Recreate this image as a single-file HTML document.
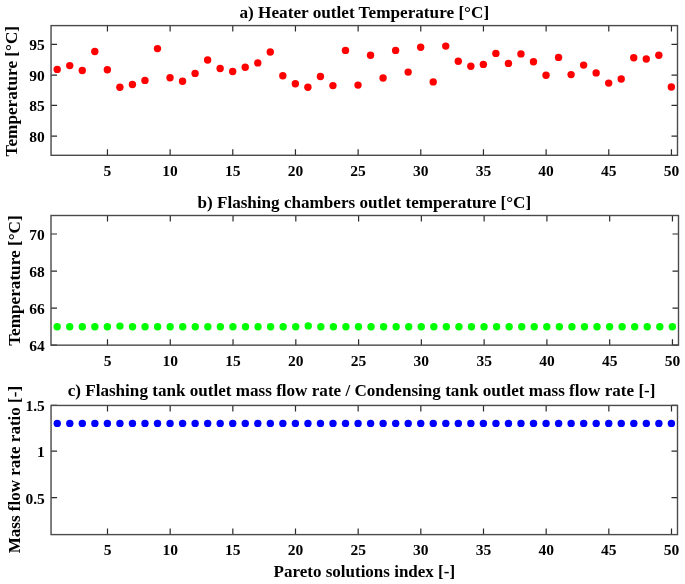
<!DOCTYPE html><html><head><meta charset="utf-8"><style>html,body{margin:0;padding:0;background:#fff;overflow:hidden;width:685px;height:584px;}svg{display:block;will-change:transform;}text{font-family:"Liberation Serif",serif;font-weight:bold;fill:#000;}</style></head><body>
<svg width="685" height="584" viewBox="0 0 685 584">
<rect width="685" height="584" fill="#fff"/>
<circle cx="57.22" cy="69.4" r="3.7" fill="#f00"/>
<circle cx="69.75" cy="65.6" r="3.7" fill="#f00"/>
<circle cx="82.28" cy="70.5" r="3.7" fill="#f00"/>
<circle cx="94.82" cy="51.55" r="3.7" fill="#f00"/>
<circle cx="107.35" cy="69.8" r="3.7" fill="#f00"/>
<circle cx="119.88" cy="87.3" r="3.7" fill="#f00"/>
<circle cx="132.42" cy="84.5" r="3.7" fill="#f00"/>
<circle cx="144.95" cy="80.4" r="3.7" fill="#f00"/>
<circle cx="157.48" cy="48.6" r="3.7" fill="#f00"/>
<circle cx="170.02" cy="77.8" r="3.7" fill="#f00"/>
<circle cx="182.55" cy="81.2" r="3.7" fill="#f00"/>
<circle cx="195.08" cy="73.4" r="3.7" fill="#f00"/>
<circle cx="207.62" cy="60.0" r="3.7" fill="#f00"/>
<circle cx="220.15" cy="68.5" r="3.7" fill="#f00"/>
<circle cx="232.68" cy="71.5" r="3.7" fill="#f00"/>
<circle cx="245.22" cy="67.3" r="3.7" fill="#f00"/>
<circle cx="257.75" cy="62.9" r="3.7" fill="#f00"/>
<circle cx="270.28" cy="52.0" r="3.7" fill="#f00"/>
<circle cx="282.82" cy="75.8" r="3.7" fill="#f00"/>
<circle cx="295.35" cy="83.7" r="3.7" fill="#f00"/>
<circle cx="307.88" cy="87.3" r="3.7" fill="#f00"/>
<circle cx="320.42" cy="76.5" r="3.7" fill="#f00"/>
<circle cx="332.95" cy="85.6" r="3.7" fill="#f00"/>
<circle cx="345.48" cy="50.4" r="3.7" fill="#f00"/>
<circle cx="358.02" cy="85.1" r="3.7" fill="#f00"/>
<circle cx="370.55" cy="55.2" r="3.7" fill="#f00"/>
<circle cx="383.08" cy="78.0" r="3.7" fill="#f00"/>
<circle cx="395.62" cy="50.4" r="3.7" fill="#f00"/>
<circle cx="408.15" cy="72.1" r="3.7" fill="#f00"/>
<circle cx="420.68" cy="47.3" r="3.7" fill="#f00"/>
<circle cx="433.22" cy="81.9" r="3.7" fill="#f00"/>
<circle cx="445.75" cy="46.1" r="3.7" fill="#f00"/>
<circle cx="458.28" cy="61.2" r="3.7" fill="#f00"/>
<circle cx="470.82" cy="66.3" r="3.7" fill="#f00"/>
<circle cx="483.35" cy="64.4" r="3.7" fill="#f00"/>
<circle cx="495.88" cy="53.4" r="3.7" fill="#f00"/>
<circle cx="508.42" cy="63.4" r="3.7" fill="#f00"/>
<circle cx="520.95" cy="53.9" r="3.7" fill="#f00"/>
<circle cx="533.48" cy="61.8" r="3.7" fill="#f00"/>
<circle cx="546.02" cy="75.3" r="3.7" fill="#f00"/>
<circle cx="558.55" cy="57.4" r="3.7" fill="#f00"/>
<circle cx="571.08" cy="74.6" r="3.7" fill="#f00"/>
<circle cx="583.62" cy="65.1" r="3.7" fill="#f00"/>
<circle cx="596.15" cy="72.9" r="3.7" fill="#f00"/>
<circle cx="608.68" cy="83.1" r="3.7" fill="#f00"/>
<circle cx="621.22" cy="79.0" r="3.7" fill="#f00"/>
<circle cx="633.75" cy="57.8" r="3.7" fill="#f00"/>
<circle cx="646.28" cy="59.0" r="3.7" fill="#f00"/>
<circle cx="658.82" cy="55.3" r="3.7" fill="#f00"/>
<circle cx="671.35" cy="87.0" r="3.7" fill="#f00"/>
<path d="M107.45 155.3v-6M107.45 25.6v6M170.12 155.3v-6M170.12 25.6v6M232.78 155.3v-6M232.78 25.6v6M295.45 155.3v-6M295.45 25.6v6M358.12 155.3v-6M358.12 25.6v6M420.78 155.3v-6M420.78 25.6v6M483.45 155.3v-6M483.45 25.6v6M546.12 155.3v-6M546.12 25.6v6M608.78 155.3v-6M608.78 25.6v6M671.45 155.3v-6M671.45 25.6v6M51.05 44.3h6M677.5 44.3h-6M51.05 75.2h6M677.5 75.2h-6M51.05 105.35h6M677.5 105.35h-6M51.05 136.2h6M677.5 136.2h-6" stroke="#2a2a2a" stroke-width="1.2" fill="none"/>
<rect x="51.05" y="25.6" width="626.45" height="129.70" fill="none" stroke="#4a4a4a" stroke-width="1.4"/>
<text x="107.45" y="176.1" font-size="15.5" text-anchor="middle">5</text>
<text x="170.12" y="176.1" font-size="15.5" text-anchor="middle">10</text>
<text x="232.78" y="176.1" font-size="15.5" text-anchor="middle">15</text>
<text x="295.45" y="176.1" font-size="15.5" text-anchor="middle">20</text>
<text x="358.12" y="176.1" font-size="15.5" text-anchor="middle">25</text>
<text x="420.78" y="176.1" font-size="15.5" text-anchor="middle">30</text>
<text x="483.45" y="176.1" font-size="15.5" text-anchor="middle">35</text>
<text x="546.12" y="176.1" font-size="15.5" text-anchor="middle">40</text>
<text x="608.78" y="176.1" font-size="15.5" text-anchor="middle">45</text>
<text x="671.45" y="176.1" font-size="15.5" text-anchor="middle">50</text>
<text x="44.8" y="50.2" font-size="15.5" text-anchor="end">95</text>
<text x="44.8" y="81.1" font-size="15.5" text-anchor="end">90</text>
<text x="44.8" y="111.2" font-size="15.5" text-anchor="end">85</text>
<text x="44.8" y="142.1" font-size="15.5" text-anchor="end">80</text>
<text x="364.3" y="18.2" font-size="17.2" text-anchor="middle">a) Heater outlet Temperature [°C]</text>
<text transform="translate(17.1,91.2) rotate(-90)" x="0" y="0" font-size="17.2" text-anchor="middle">Temperature [°C]</text>
<circle cx="57.18" cy="326.75" r="3.7" fill="#0f0"/>
<circle cx="69.74" cy="326.75" r="3.7" fill="#0f0"/>
<circle cx="82.29" cy="326.75" r="3.7" fill="#0f0"/>
<circle cx="94.85" cy="326.75" r="3.7" fill="#0f0"/>
<circle cx="107.40" cy="326.75" r="3.7" fill="#0f0"/>
<circle cx="119.95" cy="326.1" r="3.7" fill="#0f0"/>
<circle cx="132.51" cy="326.75" r="3.7" fill="#0f0"/>
<circle cx="145.06" cy="326.75" r="3.7" fill="#0f0"/>
<circle cx="157.62" cy="326.75" r="3.7" fill="#0f0"/>
<circle cx="170.17" cy="326.75" r="3.7" fill="#0f0"/>
<circle cx="182.73" cy="326.75" r="3.7" fill="#0f0"/>
<circle cx="195.28" cy="326.75" r="3.7" fill="#0f0"/>
<circle cx="207.84" cy="326.75" r="3.7" fill="#0f0"/>
<circle cx="220.39" cy="326.75" r="3.7" fill="#0f0"/>
<circle cx="232.94" cy="326.75" r="3.7" fill="#0f0"/>
<circle cx="245.50" cy="326.75" r="3.7" fill="#0f0"/>
<circle cx="258.05" cy="326.75" r="3.7" fill="#0f0"/>
<circle cx="270.61" cy="326.75" r="3.7" fill="#0f0"/>
<circle cx="283.16" cy="326.75" r="3.7" fill="#0f0"/>
<circle cx="295.72" cy="326.75" r="3.7" fill="#0f0"/>
<circle cx="308.27" cy="325.9" r="3.7" fill="#0f0"/>
<circle cx="320.83" cy="326.75" r="3.7" fill="#0f0"/>
<circle cx="333.38" cy="326.75" r="3.7" fill="#0f0"/>
<circle cx="345.93" cy="326.75" r="3.7" fill="#0f0"/>
<circle cx="358.49" cy="326.75" r="3.7" fill="#0f0"/>
<circle cx="371.04" cy="326.75" r="3.7" fill="#0f0"/>
<circle cx="383.60" cy="326.75" r="3.7" fill="#0f0"/>
<circle cx="396.15" cy="326.75" r="3.7" fill="#0f0"/>
<circle cx="408.71" cy="326.75" r="3.7" fill="#0f0"/>
<circle cx="421.26" cy="326.75" r="3.7" fill="#0f0"/>
<circle cx="433.82" cy="326.75" r="3.7" fill="#0f0"/>
<circle cx="446.37" cy="326.75" r="3.7" fill="#0f0"/>
<circle cx="458.92" cy="326.75" r="3.7" fill="#0f0"/>
<circle cx="471.48" cy="326.75" r="3.7" fill="#0f0"/>
<circle cx="484.03" cy="326.75" r="3.7" fill="#0f0"/>
<circle cx="496.59" cy="326.75" r="3.7" fill="#0f0"/>
<circle cx="509.14" cy="326.75" r="3.7" fill="#0f0"/>
<circle cx="521.70" cy="326.75" r="3.7" fill="#0f0"/>
<circle cx="534.25" cy="326.75" r="3.7" fill="#0f0"/>
<circle cx="546.81" cy="326.75" r="3.7" fill="#0f0"/>
<circle cx="559.36" cy="326.75" r="3.7" fill="#0f0"/>
<circle cx="571.91" cy="326.75" r="3.7" fill="#0f0"/>
<circle cx="584.47" cy="326.75" r="3.7" fill="#0f0"/>
<circle cx="597.02" cy="326.75" r="3.7" fill="#0f0"/>
<circle cx="609.58" cy="326.75" r="3.7" fill="#0f0"/>
<circle cx="622.13" cy="326.75" r="3.7" fill="#0f0"/>
<circle cx="634.69" cy="326.75" r="3.7" fill="#0f0"/>
<circle cx="647.24" cy="326.75" r="3.7" fill="#0f0"/>
<circle cx="659.80" cy="326.75" r="3.7" fill="#0f0"/>
<circle cx="672.35" cy="326.75" r="3.7" fill="#0f0"/>
<path d="M107.50 345.15v-6M107.50 215.5v6M170.27 345.15v-6M170.27 215.5v6M233.04 345.15v-6M233.04 215.5v6M295.82 345.15v-6M295.82 215.5v6M358.59 345.15v-6M358.59 215.5v6M421.36 345.15v-6M421.36 215.5v6M484.13 345.15v-6M484.13 215.5v6M546.91 345.15v-6M546.91 215.5v6M609.68 345.15v-6M609.68 215.5v6M672.45 345.15v-6M672.45 215.5v6M51.0 234.0h6M678.5 234.0h-6M51.0 271.1h6M678.5 271.1h-6M51.0 308.1h6M678.5 308.1h-6M51.0 345.1h6M678.5 345.1h-6" stroke="#2a2a2a" stroke-width="1.2" fill="none"/>
<rect x="51.0" y="215.5" width="627.50" height="129.65" fill="none" stroke="#4a4a4a" stroke-width="1.4"/>
<text x="107.50" y="365.9" font-size="15.5" text-anchor="middle">5</text>
<text x="170.27" y="365.9" font-size="15.5" text-anchor="middle">10</text>
<text x="233.04" y="365.9" font-size="15.5" text-anchor="middle">15</text>
<text x="295.82" y="365.9" font-size="15.5" text-anchor="middle">20</text>
<text x="358.59" y="365.9" font-size="15.5" text-anchor="middle">25</text>
<text x="421.36" y="365.9" font-size="15.5" text-anchor="middle">30</text>
<text x="484.13" y="365.9" font-size="15.5" text-anchor="middle">35</text>
<text x="546.91" y="365.9" font-size="15.5" text-anchor="middle">40</text>
<text x="609.68" y="365.9" font-size="15.5" text-anchor="middle">45</text>
<text x="672.45" y="365.9" font-size="15.5" text-anchor="middle">50</text>
<text x="44.8" y="239.9" font-size="15.5" text-anchor="end">70</text>
<text x="44.8" y="277.0" font-size="15.5" text-anchor="end">68</text>
<text x="44.8" y="314.0" font-size="15.5" text-anchor="end">66</text>
<text x="44.8" y="351.0" font-size="15.5" text-anchor="end">64</text>
<text x="364.3" y="207.9" font-size="17.1" text-anchor="middle">b) Flashing chambers outlet temperature [°C]</text>
<text transform="translate(20.2,280.6) rotate(-90)" x="0" y="0" font-size="17.2" text-anchor="middle">Temperature [°C]</text>
<circle cx="57.27" cy="423.4" r="3.7" fill="#00f"/>
<circle cx="69.80" cy="423.4" r="3.7" fill="#00f"/>
<circle cx="82.33" cy="423.4" r="3.7" fill="#00f"/>
<circle cx="94.87" cy="423.4" r="3.7" fill="#00f"/>
<circle cx="107.40" cy="423.4" r="3.7" fill="#00f"/>
<circle cx="119.93" cy="423.4" r="3.7" fill="#00f"/>
<circle cx="132.47" cy="423.4" r="3.7" fill="#00f"/>
<circle cx="145.00" cy="423.4" r="3.7" fill="#00f"/>
<circle cx="157.53" cy="423.4" r="3.7" fill="#00f"/>
<circle cx="170.07" cy="423.4" r="3.7" fill="#00f"/>
<circle cx="182.60" cy="423.4" r="3.7" fill="#00f"/>
<circle cx="195.13" cy="423.4" r="3.7" fill="#00f"/>
<circle cx="207.67" cy="423.4" r="3.7" fill="#00f"/>
<circle cx="220.20" cy="423.4" r="3.7" fill="#00f"/>
<circle cx="232.73" cy="423.4" r="3.7" fill="#00f"/>
<circle cx="245.27" cy="423.4" r="3.7" fill="#00f"/>
<circle cx="257.80" cy="423.4" r="3.7" fill="#00f"/>
<circle cx="270.33" cy="423.4" r="3.7" fill="#00f"/>
<circle cx="282.87" cy="423.4" r="3.7" fill="#00f"/>
<circle cx="295.40" cy="423.4" r="3.7" fill="#00f"/>
<circle cx="307.93" cy="423.4" r="3.7" fill="#00f"/>
<circle cx="320.47" cy="423.4" r="3.7" fill="#00f"/>
<circle cx="333.00" cy="423.4" r="3.7" fill="#00f"/>
<circle cx="345.53" cy="423.4" r="3.7" fill="#00f"/>
<circle cx="358.07" cy="423.4" r="3.7" fill="#00f"/>
<circle cx="370.60" cy="423.4" r="3.7" fill="#00f"/>
<circle cx="383.13" cy="423.4" r="3.7" fill="#00f"/>
<circle cx="395.67" cy="423.4" r="3.7" fill="#00f"/>
<circle cx="408.20" cy="423.4" r="3.7" fill="#00f"/>
<circle cx="420.73" cy="423.4" r="3.7" fill="#00f"/>
<circle cx="433.27" cy="423.4" r="3.7" fill="#00f"/>
<circle cx="445.80" cy="423.4" r="3.7" fill="#00f"/>
<circle cx="458.33" cy="423.4" r="3.7" fill="#00f"/>
<circle cx="470.87" cy="423.4" r="3.7" fill="#00f"/>
<circle cx="483.40" cy="423.4" r="3.7" fill="#00f"/>
<circle cx="495.93" cy="423.4" r="3.7" fill="#00f"/>
<circle cx="508.47" cy="423.4" r="3.7" fill="#00f"/>
<circle cx="521.00" cy="423.4" r="3.7" fill="#00f"/>
<circle cx="533.53" cy="423.4" r="3.7" fill="#00f"/>
<circle cx="546.07" cy="423.4" r="3.7" fill="#00f"/>
<circle cx="558.60" cy="423.4" r="3.7" fill="#00f"/>
<circle cx="571.13" cy="423.4" r="3.7" fill="#00f"/>
<circle cx="583.67" cy="423.4" r="3.7" fill="#00f"/>
<circle cx="596.20" cy="423.4" r="3.7" fill="#00f"/>
<circle cx="608.73" cy="423.4" r="3.7" fill="#00f"/>
<circle cx="621.27" cy="423.4" r="3.7" fill="#00f"/>
<circle cx="633.80" cy="423.4" r="3.7" fill="#00f"/>
<circle cx="646.33" cy="423.4" r="3.7" fill="#00f"/>
<circle cx="658.87" cy="423.4" r="3.7" fill="#00f"/>
<circle cx="671.40" cy="423.4" r="3.7" fill="#00f"/>
<path d="M107.50 534.6v-6M107.50 405.45v6M170.17 534.6v-6M170.17 405.45v6M232.83 534.6v-6M232.83 405.45v6M295.50 534.6v-6M295.50 405.45v6M358.17 534.6v-6M358.17 405.45v6M420.83 534.6v-6M420.83 405.45v6M483.50 534.6v-6M483.50 405.45v6M546.17 534.6v-6M546.17 405.45v6M608.83 534.6v-6M608.83 405.45v6M671.50 534.6v-6M671.50 405.45v6M51.05 405.4h6M677.5 405.4h-6M51.05 451.1h6M677.5 451.1h-6M51.05 497.6h6M677.5 497.6h-6" stroke="#2a2a2a" stroke-width="1.2" fill="none"/>
<rect x="51.05" y="405.45" width="626.45" height="129.15" fill="none" stroke="#4a4a4a" stroke-width="1.4"/>
<text x="107.50" y="555.4" font-size="15.5" text-anchor="middle">5</text>
<text x="170.17" y="555.4" font-size="15.5" text-anchor="middle">10</text>
<text x="232.83" y="555.4" font-size="15.5" text-anchor="middle">15</text>
<text x="295.50" y="555.4" font-size="15.5" text-anchor="middle">20</text>
<text x="358.17" y="555.4" font-size="15.5" text-anchor="middle">25</text>
<text x="420.83" y="555.4" font-size="15.5" text-anchor="middle">30</text>
<text x="483.50" y="555.4" font-size="15.5" text-anchor="middle">35</text>
<text x="546.17" y="555.4" font-size="15.5" text-anchor="middle">40</text>
<text x="608.83" y="555.4" font-size="15.5" text-anchor="middle">45</text>
<text x="671.50" y="555.4" font-size="15.5" text-anchor="middle">50</text>
<text x="44.8" y="411.3" font-size="15.5" text-anchor="end">1.5</text>
<text x="44.8" y="457.0" font-size="15.5" text-anchor="end">1</text>
<text x="44.8" y="503.5" font-size="15.5" text-anchor="end">0.5</text>
<text x="361.6" y="396.0" font-size="17.1" text-anchor="middle">c) Flashing tank outlet mass flow rate / Condensing tank outlet mass flow rate [-]</text>
<text transform="translate(20.3,469.6) rotate(-90)" x="0" y="0" font-size="17.05" text-anchor="middle">Mass flow rate ratio [-]</text>
<text x="364.35" y="576.9" font-size="17" text-anchor="middle">Pareto solutions index [-]</text>
</svg></body></html>
